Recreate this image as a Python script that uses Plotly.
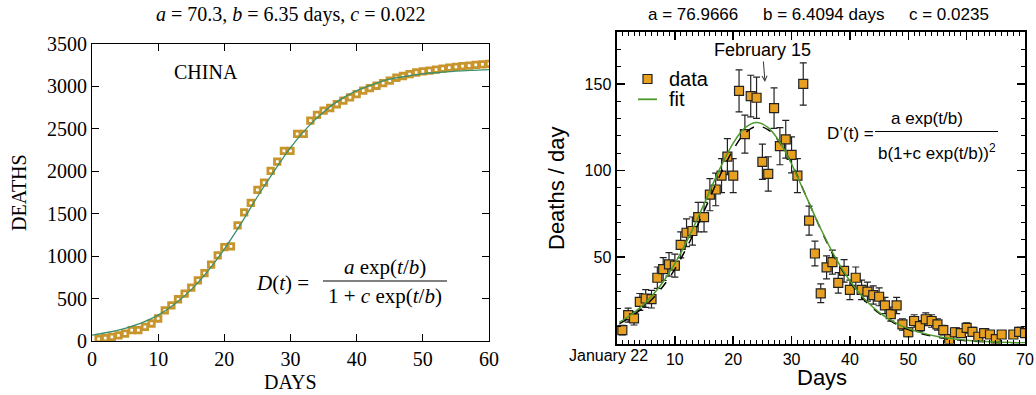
import plotly.graph_objects as go

W, H = 1036, 395

# ---------------- Left panel data (cumulative deaths, China) ----------------
china_days = list(range(1, 61))
china_deaths = [24, 34, 48, 67, 88, 127, 127, 166, 206, 265,
                362, 421, 492, 559, 629, 715, 801, 900, 1009, 1107,
                1115, 1362, 1516, 1628, 1780, 1866, 2004, 2114, 2240, 2240,
                2442, 2442, 2596, 2664, 2715, 2746, 2790, 2832, 2871, 2910,
                2950, 2979, 3008, 3040, 3069, 3102, 3123, 3146, 3164, 3177,
                3187, 3197, 3209, 3221, 3231, 3239, 3246, 3254, 3259, 3265]

# fit curve
fit_t = [0, 2.5, 5, 7.5, 10, 12.5, 15, 17.5, 20, 22.5, 25, 27.5, 30, 32.5,
         35, 37.5, 40, 42.5, 45, 47.5, 50, 52.5, 55, 57.5, 60]
fit_D = [70, 103, 150, 214, 305, 436, 605, 823, 1084, 1380, 1700, 2000, 2280,
         2512, 2700, 2844, 2950, 3025, 3085, 3120, 3148, 3165, 3180, 3190, 3198]

# ---------------- Right panel data (daily deaths) ----------------
daily_days = list(range(1, 67)) + [68, 69, 70]
daily_deaths = [7.7, 16.4, 14.5, 24, 26, 25.6, 38, 43, 45.7, 45,
                57, 64, 65, 73, 73, 86, 89, 97, 108, 97,
                146, 121, 143, 142, 105, 98, 136, 114, 118, 109,
                97, 150, 71, 52, 29, 44, 47, 35, 42, 31,
                38, 31, 30, 28, 27, 22, 17, 22, 11, 6.5,
                13, 10, 14, 13, 11, 7.7, 2.5, 6.5, 6, 9,
                6.7, 3.9, 6, 5.2, 2.5, 5.2,
                5.2, 6.7, 6]
daily_err = [2.8, 4.0, 3.8, 4.9, 5.1, 5.1, 6.2, 6.6, 6.8, 6.7,
             7.5, 8.0, 8.1, 8.5, 8.5, 9.3, 9.4, 9.8, 10.4, 9.8,
             12.1, 11.0, 12.0, 11.9, 10.2, 9.9, 11.7, 10.7, 10.9, 10.4,
             9.8, 12.2, 8.4, 7.2, 5.4, 6.6, 6.9, 5.9, 6.5, 5.6,
             6.2, 5.6, 5.5, 5.3, 5.2, 4.7, 4.1, 4.7, 3.3, 2.5,
             3.6, 3.2, 3.7, 3.6, 3.3, 2.8, 1.6, 2.5, 2.4, 3.0,
             2.6, 2.0, 2.4, 2.3, 1.6, 2.3,
             2.3, 2.6, 2.4]

curve_t = [0.5, 2.5, 5, 7.5, 10, 12.5, 15, 17.5, 20, 22, 24, 26, 28, 30,
           32.5, 35, 37.5, 40, 42.5, 45, 47.5, 50, 55, 60, 65, 70]
fit_green = [12.3, 16.6, 23.7, 33.4, 46.2, 62.2, 80.6, 99.5, 115.8, 124.6,
             127.7, 124.8, 116.3, 103.7, 85.0, 66.3, 49.7, 36.1, 25.7, 18.0,
             12.5, 8.6, 4.0, 1.85, 0.85, 0.4]
fit_black = [11.5, 15.5, 22, 31, 43, 58.5, 76.5, 95.5, 112, 121.5,
             125.5, 123.5, 116, 104, 85, 66, 49, 35.5, 25, 17.5,
             12, 8, 3.6, 1.6, 0.7, 0.3]

left_xticks = [0, 10, 20, 30, 40, 50, 60]
left_yticks = [0, 500, 1000, 1500, 2000, 2500, 3000, 3500]
right_xticks = [10, 20, 30, 40, 50, 60, 70]
right_yticks = [50, 100, 150]

SERIF = "Liberation Serif"
SANS = "Liberation Sans"
GOLD = "#C8952C"
ORANGE = "#E8A020"
TEAL = "#3D8F6B"
GREEN = "#4E9A2C"


def px(x):
    return x / W


def py(y):
    return 1 - y / H


fig = go.Figure()

# left panel
fig.add_trace(go.Scatter(
    x=china_days, y=china_deaths, mode="markers", xaxis="x", yaxis="y",
    marker=dict(symbol="square-open", size=5.5, color=GOLD,
                line=dict(width=2.8, color=GOLD)),
    showlegend=False))
fig.add_trace(go.Scatter(
    x=fit_t, y=fit_D, mode="lines", xaxis="x", yaxis="y",
    line=dict(color=TEAL, width=1.3, shape="spline"), showlegend=False))

# right panel
fig.add_trace(go.Scatter(
    x=daily_days, y=daily_deaths, mode="markers", xaxis="x2", yaxis="y2",
    marker=dict(symbol="square", size=9, color=ORANGE,
                line=dict(width=1.2, color="#222222")),
    error_y=dict(type="data", array=daily_err, visible=True,
                 color="#222222", thickness=1.2, width=3.5),
    showlegend=False))
fig.add_trace(go.Scatter(
    x=curve_t, y=fit_black, mode="lines", xaxis="x2", yaxis="y2",
    line=dict(color="black", width=1.5, dash="dash", shape="spline"),
    showlegend=False))
fig.add_trace(go.Scatter(
    x=curve_t, y=fit_green, mode="lines", xaxis="x2", yaxis="y2",
    line=dict(color=GREEN, width=1.5, shape="spline"), showlegend=False))

axis_common = dict(showgrid=False, zeroline=False, showline=True,
                   linecolor="black", mirror="ticks", ticks="inside",
                   tickcolor="black", automargin=False)

fig.update_layout(
    width=W, height=H,
    margin=dict(l=0, r=0, t=0, b=0, pad=0, autoexpand=False),
    showlegend=False,
    paper_bgcolor="white", plot_bgcolor="white",
    xaxis=dict(domain=[px(92), px(489)], range=[0, 60], anchor="y",
               tickvals=left_xticks, linewidth=1, ticklen=7, tickwidth=1,
               tickfont=dict(family=SERIF, size=20, color="black"),
               **axis_common),
    yaxis=dict(domain=[py(341), py(44)], range=[0, 3500], anchor="x",
               tickvals=left_yticks, linewidth=1, ticklen=7, tickwidth=1,
               tickfont=dict(family=SERIF, size=20, color="black"),
               **axis_common),
    xaxis2=dict(domain=[px(616.5), px(1025)], range=[0, 70], anchor="y2",
                tickvals=right_xticks, linewidth=2, ticklen=8, tickwidth=1.5,
                tickfont=dict(family=SANS, size=16, color="black"),
                minor=dict(tickmode="linear", tick0=0, dtick=1, ticks="inside",
                           ticklen=4, tickcolor="black", tickwidth=1),
                **axis_common),
    yaxis2=dict(domain=[py(343.5), py(32)], range=[0, 180], anchor="x2",
                tickvals=right_yticks, linewidth=2, ticklen=8, tickwidth=1.5,
                tickfont=dict(family=SANS, size=16, color="black"),
                minor=dict(tickmode="linear", tick0=0, dtick=10, ticks="inside",
                           ticklen=4, tickcolor="black", tickwidth=1),
                **axis_common),
)

ann = []


def text(x, y, s, family, size, angle=0, xanchor="center"):
    ann.append(dict(x=px(x), y=py(y), xref="paper", yref="paper", text=s,
                    showarrow=False, xanchor=xanchor, yanchor="middle",
                    textangle=angle,
                    font=dict(family=family, size=size, color="black")))


# left panel texts
text(290, 15, "<i>a</i> = 70.3, <i>b</i> = 6.35 days, <i>c</i> = 0.022", SERIF, 20)
text(19, 193, "DEATHS", SERIF, 20, angle=-90)
text(290, 382, "DAYS", SERIF, 20)
text(206, 72, "CHINA", SERIF, 20)
text(282, 283, "<i>D</i>(<i>t</i>) =", SERIF, 21)
text(385, 267, "<i>a</i> exp(<i>t</i>/<i>b</i>)", SERIF, 21)
text(385, 296, "1 + <i>c</i> exp(<i>t</i>/<i>b</i>)", SERIF, 21)

# right panel texts
text(693, 15, "a = 76.9666", SANS, 17)
text(823, 15, "b = 6.4094 days", SANS, 17)
text(949, 15, "c = 0.0235", SANS, 17)
text(556, 188, "Deaths / day", SANS, 22, angle=-90)
text(822, 377, "Days", SANS, 22)
text(608.5, 355, "January 22", SANS, 16)
text(667, 79, "data", SANS, 20, xanchor="left")
text(667, 99, "fit", SANS, 20, xanchor="left")
text(850, 133, "D’(t) =", SANS, 17)
text(927, 118, "a exp(t/b)", SANS, 17)
text(937, 152, "b(1+c exp(t/b))<sup>2</sup>", SANS, 17)

# February 15 arrow
ann.append(dict(x=px(765), y=py(82), xref="paper", yref="paper",
                text="February 15", showarrow=True, arrowhead=5, arrowsize=1,
                arrowwidth=1, arrowcolor="#333333", ax=-2.5, ay=-32,
                font=dict(family=SANS, size=18, color="black")))

fig.update_layout(annotations=ann)

# fraction bars and manual legend symbols
fig.add_shape(type="line", xref="paper", yref="paper",
              x0=px(323), x1=px(447), y0=py(281), y1=py(281),
              line=dict(color="black", width=1))
fig.add_shape(type="line", xref="paper", yref="paper",
              x0=px(875), x1=px(998), y0=py(131.5), y1=py(131.5),
              line=dict(color="black", width=1))
fig.add_shape(type="rect", xref="paper", yref="paper",
              x0=px(643), x1=px(652), y0=py(83.5), y1=py(74.5),
              fillcolor=ORANGE, line=dict(color="#222222", width=1.2))
fig.add_shape(type="line", xref="paper", yref="paper",
              x0=px(638), x1=px(657), y0=py(99.3), y1=py(99.3),
              line=dict(color=GREEN, width=1.8))

fig.write_html("out.html",
               config={"displayModeBar": False, "staticPlot": True},
               post_script="document.body.style.margin='0';"
                           "document.body.style.overflow='hidden';")
